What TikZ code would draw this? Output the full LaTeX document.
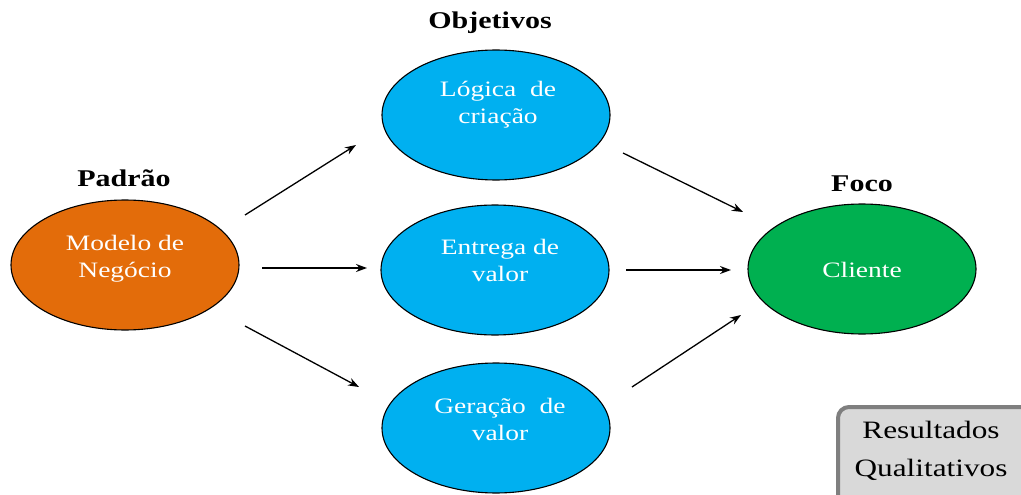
\documentclass[tikz,border=0pt]{standalone}
\usepackage{fontspec}
\setmainfont{Liberation Serif}[FakeStretch=1.25]
\usetikzlibrary{shapes.geometric,arrows.meta}
\definecolor{orangeF}{HTML}{E36C0A}
\definecolor{blueF}{HTML}{00B0F0}
\definecolor{greenF}{HTML}{00B050}
\definecolor{boxF}{HTML}{D9D9D9}
\definecolor{boxB}{HTML}{7F7F7F}
\tikzset{
  blob/.style={ellipse, draw=black, line width=1.1pt, minimum width=228pt, minimum height=130pt, inner sep=0pt},
  intext/.style={text=white, align=center, font=\fontsize{22}{27}\selectfont},
  head/.style={font=\bfseries\fontsize{24}{28}\selectfont},
  conn/.style={line width=1.3pt, -{Stealth[length=11pt,width=8pt]}},
  resbox/.style={draw=boxB, fill=boxF, line width=4pt, rounded corners=11pt}
}
\begin{document}
\begin{tikzpicture}[x=1pt,y=-1pt]
\clip (0,0) rectangle (1021,495);
\fill[white] (0,0) rectangle (1021,495);
% ellipses
\node[blob, fill=orangeF] (m) at (125,265) {};
\node[blob, fill=blueF] (l) at (496,115) {};
\node[blob, fill=blueF] (e) at (495,270) {};
\node[blob, fill=blueF] (g) at (496,428) {};
\node[blob, fill=greenF] (c) at (862,269) {};
% texts
\node[intext] (mt) at (125,259) {Modelo de\\Negócio};
\node[intext] (lt) at (498,105) {Lógica\ \ de\\criação};
\node[intext] (et) at (500,260) {Entrega de\\valor};
\node[intext] (gt) at (500,419) {Geração\ \ de\\valor};
\node[intext] (ct) at (862,270) {Cliente};
% headings
\node[head] (hp) at (124,178) {Padrão};
\node[head] (ho) at (490,23) {Objetivos};
\node[head] (hf) at (862,184) {Foco};
% result box
\node[resbox, minimum width=200pt, minimum height=100pt, anchor=north west] (rb) at (836,405) {};
\node[align=center, font=\fontsize{25}{38}\selectfont, anchor=north] (rt) at (931,418) {Resultados\\Qualitativos};
% arrow endpoints
\coordinate (a1s) at (245,215); \coordinate (a1e) at (356,145);
\coordinate (a2s) at (262,268); \coordinate (a2e) at (367,268);
\coordinate (a3s) at (245,326); \coordinate (a3e) at (359,387);
\coordinate (b1s) at (623,153); \coordinate (b1e) at (743,212);
\coordinate (b2s) at (626,270); \coordinate (b2e) at (731,270);
\coordinate (b3s) at (632,387); \coordinate (b3e) at (741,315);
\draw[conn] (a1s) -- (a1e);
\draw[conn] (a2s) -- (a2e);
\draw[conn] (a3s) -- (a3e);
\draw[conn] (b1s) -- (b1e);
\draw[conn] (b2s) -- (b2e);
\draw[conn] (b3s) -- (b3e);
\end{tikzpicture}
\end{document}
